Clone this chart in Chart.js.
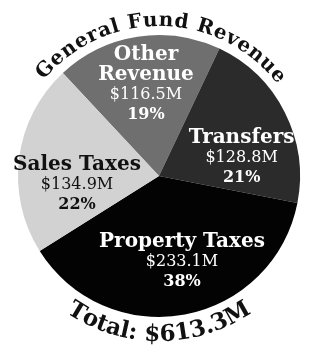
<!DOCTYPE html>
<html>
<head>
<meta charset="utf-8">
<script src="https://cdn.jsdelivr.net/npm/chart.js@4.4.1/dist/chart.umd.min.js"></script>
<style>
  html, body { margin: 0; padding: 0; background: #ffffff; }
  #wrap { width: 320px; height: 352px; }
</style>
</head>
<body>
<div id="wrap"><canvas id="pie" width="320" height="352"></canvas></div>
<script>
// datos (millones de dolares)
const categorias = [['Other', 'Revenue'], ['Transfers'], ['Property Taxes'], ['Sales Taxes']];
const valores = [116.5, 128.8, 233.1, 134.9];
const colores = ['#6f6f6f', '#2b2b2b', '#030303', '#d2d2d2'];
const coloresTexto = ['#ffffff', '#ffffff', '#ffffff', '#111111'];
const titulo = 'General Fund Revenue';

// ajustes de posicion de las etiquetas (grados respecto al centro de la porcion, fraccion del radio)
const desplazamiento = [0.7, 14.4, -4.4, -13.7];
const radioEtiqueta = [0.655, 0.60, 0.63, 0.585];

const FONT = "'DejaVu Serif', serif";

function textoEnArco(ctx, texto, cx, cy, r, anguloCentro, espacio, abajo) {
    const anchos = [...texto].map(ch => ctx.measureText(ch).width);
    const total = anchos.reduce((a, b) => a + b, 0) + espacio * (anchos.length - 1);
    let acc = 0;
    ctx.textAlign = 'center';
    ctx.textBaseline = 'alphabetic';
    [...texto].forEach((ch, i) => {
        const w = anchos[i];
        let a;
        if (!abajo) {
            a = anguloCentro - total / (2 * r) + (acc + w / 2) / r;
        } else {
            a = anguloCentro + total / (2 * r) - (acc + w / 2) / r;
        }
        ctx.save();
        ctx.translate(cx + r * Math.cos(a), cy + r * Math.sin(a));
        ctx.rotate(abajo ? a - Math.PI / 2 : a + Math.PI / 2);
        ctx.fillText(ch, 0, 0);
        ctx.restore();
        acc += w + espacio;
    });
}

const etiquetasPlugin = {
    id: 'etiquetas',
    afterDatasetsDraw(chart) {
        const ctx = chart.ctx;
        const meta = chart.getDatasetMeta(0);
        const total = valores.reduce((a, b) => a + b, 0);

        meta.data.forEach((arc, i) => {
            const p = arc.getProps(['x', 'y', 'startAngle', 'endAngle', 'outerRadius'], true);
            const mid = (p.startAngle + p.endAngle) / 2 + desplazamiento[i] * Math.PI / 180;
            const r = p.outerRadius * radioEtiqueta[i];
            const x = p.x + r * Math.cos(mid);
            const y = p.y + r * Math.sin(mid);

            const lineas = [];
            categorias[i].forEach(t => lineas.push({ t: t, f: 'bold 20px ' + FONT }));
            lineas.push({ t: '$' + valores[i].toFixed(1) + 'M', f: '16px ' + FONT });
            lineas.push({ t: Math.round(valores[i] / total * 100) + '%', f: 'bold 16px ' + FONT });

            const alto = 20;
            let yy = y - (lineas.length - 1) * alto / 2;
            ctx.save();
            ctx.fillStyle = coloresTexto[i];
            ctx.textAlign = 'center';
            ctx.textBaseline = 'middle';
            lineas.forEach(l => {
                ctx.font = l.f;
                ctx.fillText(l.t, x, yy);
                yy += alto;
            });
            ctx.restore();
        });

        // titulo curvo arriba y total curvo abajo
        const arc0 = meta.data[0];
        const cx = arc0.x, cy = arc0.y, R = arc0.outerRadius;
        ctx.save();
        ctx.fillStyle = '#111111';
        ctx.font = 'bold 20px ' + FONT;
        textoEnArco(ctx, titulo, cx, cy, R + 9, (-90 + 1) * Math.PI / 180, 0.7, false);

        ctx.font = 'bold 23px ' + FONT;
        textoEnArco(ctx, 'Total: $' + total.toFixed(1) + 'M', cx, cy, R + 24, 90 * Math.PI / 180, 0, true);
        ctx.restore();
    }
};

new Chart(document.getElementById('pie').getContext('2d'), {
    type: 'pie',
    data: {
        labels: categorias.map(c => c.join(' ')),
        datasets: [{
            data: valores,
            backgroundColor: colores,
            borderWidth: 0
        }]
    },
    options: {
        responsive: false,
        devicePixelRatio: 1,
        animation: false,
        rotation: -43,
        layout: { padding: { left: 18, right: 20, top: 35, bottom: 35 } },
        plugins: {
            legend: { display: false },
            tooltip: { enabled: false },
            title: { display: false }
        }
    },
    plugins: [etiquetasPlugin]
});
</script>
</body>
</html>
